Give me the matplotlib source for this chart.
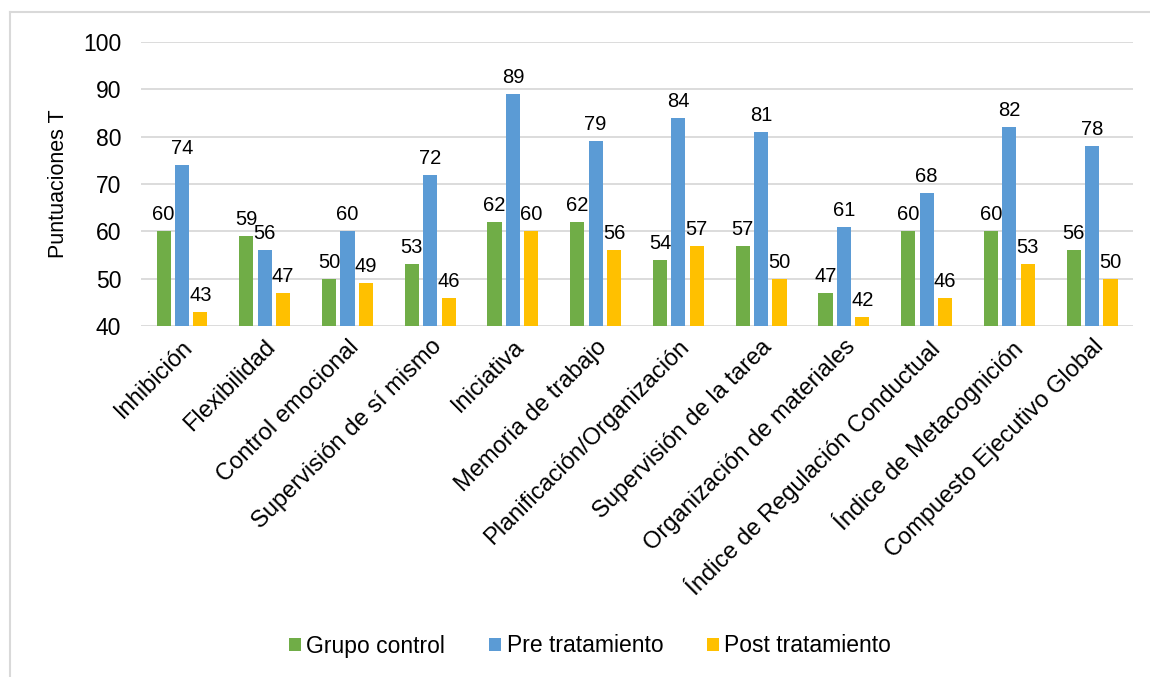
import matplotlib
matplotlib.use("Agg")
import matplotlib.pyplot as plt
import numpy as np
from matplotlib.lines import Line2D

plt.rcParams['font.family'] = ['Liberation Sans', 'DejaVu Sans']

categories = ["Inhibición", "Flexibilidad", "Control emocional", "Supervisión de sí mismo",
              "Iniciativa", "Memoria de trabajo", "Planificación/Organización",
              "Supervisión de la tarea", "Organización de materiales",
              "Índice de Regulación Conductual", "Índice de Metacognición",
              "Compuesto Ejecutivo Global"]
grupo_control = [60, 59, 50, 53, 62, 62, 54, 57, 47, 60, 60, 56]
pre_tratamiento = [74, 56, 60, 72, 89, 79, 84, 81, 61, 68, 82, 78]
post_tratamiento = [43, 47, 49, 46, 60, 56, 57, 50, 42, 46, 53, 50]
series_names = ["Grupo control", "Pre tratamiento", "Post tratamiento"]
colors = ["#70AD47", "#5B9BD5", "#FFC000"]
yticks = [40, 50, 60, 70, 80, 90, 100]

fig = plt.figure(figsize=(11.5, 6.77), dpi=100)
ax = fig.add_axes([0.1223, 0.5185, 0.8633, 0.4195])

x = np.arange(len(categories))
slot = 1 / 4.5
bw = slot * 0.77
series = [grupo_control, pre_tratamiento, post_tratamiento]
for i, (vals, name, c) in enumerate(zip(series, series_names, colors)):
    pos = x + (i - 1) * slot
    bars = ax.bar(pos, vals, width=bw, color=c, label=name, zorder=3)
    for b, v in zip(bars, vals):
        ax.annotate(str(v), (b.get_x() + b.get_width() / 2, v), xytext=(0, 5),
                    textcoords="offset points", ha="center", va="bottom",
                    fontsize=14.5, color="#000000", zorder=4)

ax.set_xlim(-0.5, len(categories) - 0.5)
ax.set_ylim(40, 100)
ax.set_yticks(yticks)
ax.set_yticklabels([str(t) for t in yticks], fontsize=16.5)
ax.yaxis.grid(True, color="#D9D9D9", linewidth=1.3, zorder=0)
ax.set_axisbelow(True)
for s in ax.spines.values():
    s.set_visible(False)
ax.tick_params(axis="both", length=0)
ax.tick_params(axis="y", pad=14)
ax.set_xticks(x)
ax.set_xticklabels(categories, rotation=45, ha="right", rotation_mode="anchor", fontsize=17)
ax.tick_params(axis="x", pad=7)
ax.set_ylabel("Puntuaciones T", fontsize=15.5, labelpad=10)

ax.legend(loc="center", bbox_to_anchor=(590 / 1150, 1 - 646 / 677), bbox_transform=fig.transFigure,
          ncol=3, frameon=False, fontsize=16.5, handlelength=0.52, handleheight=0.52,
          handletextpad=0.25, columnspacing=1.9, borderpad=0)

fig.add_artist(Line2D([10 / 1150, 1.0], [1 - 12 / 677, 1 - 12 / 677], transform=fig.transFigure,
                      color="#D9D9D9", linewidth=1.5))
fig.add_artist(Line2D([10 / 1150, 10 / 1150], [0, 1 - 12 / 677], transform=fig.transFigure,
                      color="#D9D9D9", linewidth=1.5))

fig.savefig("out.png", dpi=100, facecolor="white")
